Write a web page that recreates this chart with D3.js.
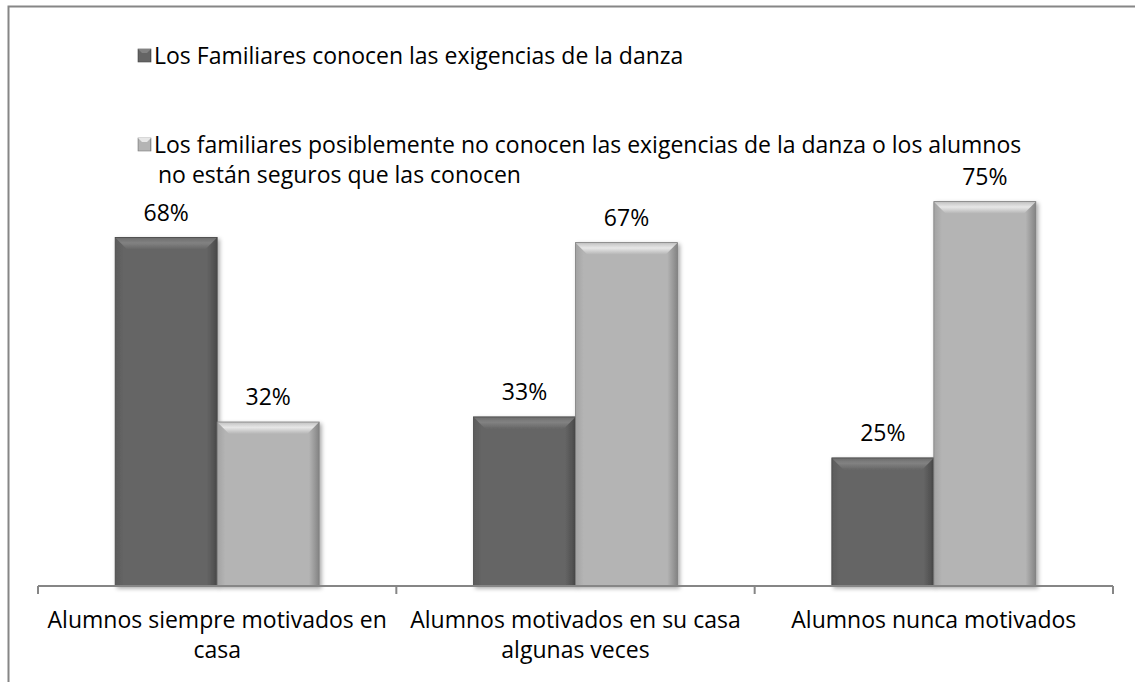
<!DOCTYPE html>
<html>
<head>
<meta charset="utf-8">
<script src="https://d3js.org/d3.v7.min.js"></script>
<style>
  body { margin: 0; padding: 0; background: #fff; }
  text { font-family: "Open Sans", Lato, sans-serif; fill: #000; }
</style>
</head>
<body>
<div id="chart"></div>
<script>
// data
var categories = [
  ["Alumnos siempre motivados en", "casa"],
  ["Alumnos motivados en su casa", "algunas veces"],
  ["Alumnos nunca motivados"]
];
var seriesNames = [
  ["Los Familiares conocen las exigencias de la danza"],
  ["Los familiares posiblemente no conocen las exigencias de la danza o los alumnos", "no están seguros que las conocen"]
];
var conocen = [0.68, 0.33, 0.25];
var noConocen = [0.32, 0.67, 0.75];
var series = [conocen, noConocen];
var barColors = ["#656565", "#b4b4b4"];

var width = 1135, height = 682;
var margin = {left: 38, right: 22, top: 176, bottom: 96};
var fs = "23px";

var svg = d3.select("#chart").append("svg")
  .attr("width", width).attr("height", height);

// gradients for bevelled look
var defs = svg.append("defs");
barColors.forEach(function(c, i) {
  var g = defs.append("linearGradient").attr("id", "h" + i)
    .attr("x1", 0).attr("x2", 1).attr("y1", 0).attr("y2", 0);
  g.append("stop").attr("offset", "0%").attr("stop-color", d3.color(c).darker(0.3));
  g.append("stop").attr("offset", "8%").attr("stop-color", c);
  g.append("stop").attr("offset", "90%").attr("stop-color", c);
  g.append("stop").attr("offset", "100%").attr("stop-color", d3.color(c).darker(0.9));
  var t = defs.append("linearGradient").attr("id", "t" + i)
    .attr("x1", 0).attr("x2", 0).attr("y1", 0).attr("y2", 1);
  t.append("stop").attr("offset", "0%").attr("stop-color", d3.color(c).brighter(0.2));
  t.append("stop").attr("offset", "45%").attr("stop-color", d3.color(c).brighter(0.7));
  t.append("stop").attr("offset", "100%").attr("stop-color", c);
});
var f = defs.append("filter").attr("id", "shadow")
  .attr("x", "-10%").attr("y", "-10%").attr("width", "130%").attr("height", "130%");
f.append("feDropShadow").attr("dx", 2).attr("dy", 2).attr("stdDeviation", 2)
  .attr("flood-color", "#000").attr("flood-opacity", 0.35);

// outer frame
svg.append("path")
  .attr("d", "M8.5,682 V6.5 H1135")
  .attr("fill", "none").attr("stroke", "#868686").attr("stroke-width", 2);

var x0 = d3.scaleBand().domain(d3.range(categories.length))
  .range([margin.left, width - margin.right]);
var x1 = d3.scaleBand().domain([0, 1]).range([0, 204]);
var y = d3.scaleLinear().domain([0, 0.8]).range([height - margin.bottom, margin.top]);

var base = y(0);

// bars
series.forEach(function(vals, s) {
  var g = svg.append("g");
  vals.forEach(function(v, i) {
    var bx = x0(i) + x0.bandwidth() / 2 - 102 + x1(s);
    var bw = x1.bandwidth();
    var by = y(v);
    var bh = base - by;
    var bar = g.append("g").attr("filter", "url(#shadow)");
    bar.append("rect").attr("x", bx).attr("y", by).attr("width", bw).attr("height", bh)
      .attr("fill", "url(#h" + s + ")");
    // top bevel
    bar.append("path")
      .attr("d", "M" + bx + "," + by + " H" + (bx + bw) + " L" + (bx + bw - 12) + "," + (by + 12) +
        " H" + (bx + 12) + " Z")
      .attr("fill", "url(#t" + s + ")");
    bar.append("rect").attr("x", bx).attr("y", by).attr("width", bw).attr("height", bh)
      .attr("fill", "none").attr("stroke", d3.color(barColors[s]).darker(1)).attr("stroke-width", 0.8);
    svg.append("text")
      .attr("x", bx + bw / 2).attr("y", by - 17)
      .attr("text-anchor", "middle").style("font-size", fs)
      .text(Math.round(v * 100) + "%");
  });
});

// axis
var axis = svg.append("g").attr("transform", "translate(0," + base + ")");
axis.append("line").attr("x1", margin.left).attr("x2", width - margin.right)
  .attr("stroke", "#868686").attr("stroke-width", 2);
d3.range(categories.length + 1).forEach(function(i) {
  var tx = i < categories.length ? x0(i) : x0.range()[1];
  axis.append("line").attr("x1", tx).attr("x2", tx).attr("y1", 0).attr("y2", 8)
    .attr("stroke", "#868686").attr("stroke-width", 2);
});
categories.forEach(function(lines, i) {
  var t = axis.append("text").attr("text-anchor", "middle").style("font-size", fs);
  lines.forEach(function(l, k) {
    t.append("tspan").attr("x", x0(i) + x0.bandwidth() / 2).attr("y", 42 + k * 30).text(l);
  });
});

// legend
var legY = [56, 145];
seriesNames.forEach(function(lines, s) {
  var lg = svg.append("g");
  lg.append("rect").attr("x", 138).attr("y", legY[s] - 7).attr("width", 13).attr("height", 13)
    .attr("fill", "url(#h" + s + ")").attr("stroke", d3.color(barColors[s]).darker(1)).attr("stroke-width", 0.6);
  lg.append("path")
    .attr("d", "M138," + (legY[s] - 7) + " h13 l-4,4 h-5 Z")
    .attr("fill", d3.color(barColors[s]).brighter(0.7));
  var t = lg.append("text").style("font-size", fs);
  lines.forEach(function(l, k) {
    t.append("tspan").attr("x", k === 0 ? 154 : 158).attr("y", legY[s] + 8 + k * 30).text(l);
  });
});
</script>
</body>
</html>
